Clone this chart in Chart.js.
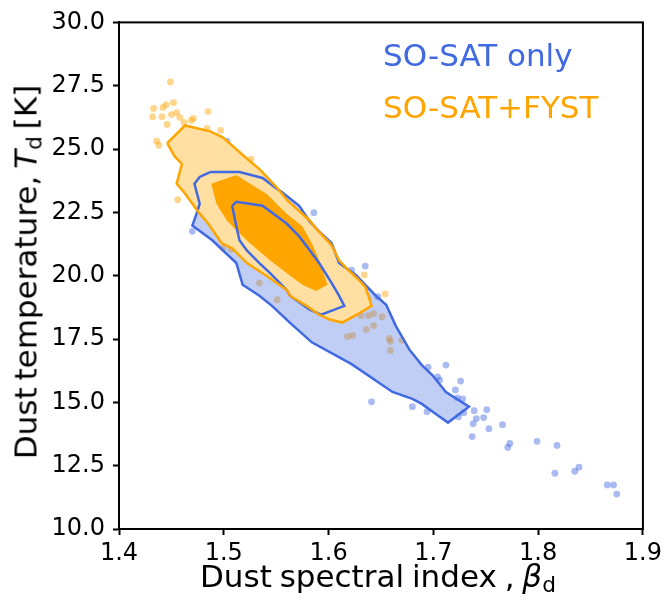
<!DOCTYPE html>
<html>
<head>
<meta charset="utf-8">
<script src="https://cdn.jsdelivr.net/npm/chart.js@4.4.1/dist/chart.umd.min.js"></script>
<style>
  html, body { margin: 0; padding: 0; background: #fff; }
  #wrap { position: relative; width: 666px; height: 606px; }
  #wrap canvas { position: absolute; left: 0; top: 0; }
  .txt { position: absolute; font-family: 'DejaVu Sans'; line-height: 1; white-space: nowrap; }
  .txt i { font-style: italic; }
  .txt sub { font-size: 0.7em; vertical-align: baseline; position: relative; top: 0.22em; }
  #ytitle { font-size: 31px; left: 26px; top: 272px; word-spacing: -3px; transform: translate(-50%, -50%) rotate(-90deg); color: #000; }
  #xtitle { font-size: 31px; left: 200px; top: 561px; word-spacing: -2px; color: #000; }
  #leg1 { font-size: 31px; left: 383px; top: 40px; color: #4169e1; }
  #leg2 { font-size: 31px; left: 383px; top: 92px; color: #ffa500; }
</style>
</head>
<body>
<div id="wrap">
  <canvas id="chart" width="666" height="606"></canvas>
  <div class="txt" id="ytitle">Dust temperature, <i>T</i><sub>d</sub> [K]</div>
  <div class="txt" id="xtitle">Dust spectral index , <i>β</i><sub>d</sub></div>
  <div class="txt" id="leg1">SO-SAT only</div>
  <div class="txt" id="leg2">SO-SAT+FYST</div>
</div>
<script>
// contour outlines (beta_d, T_d)
const blueOuterBeta = [1.487, 1.515, 1.537, 1.548, 1.555, 1.572, 1.582, 1.591, 1.603, 1.610, 1.626, 1.636, 1.645, 1.655, 1.664, 1.677, 1.689, 1.699, 1.712, 1.734, 1.714, 1.702, 1.689, 1.680, 1.661, 1.622, 1.584, 1.563, 1.546, 1.534, 1.518, 1.512, 1.489, 1.470, 1.474, 1.477, 1.472, 1.477];
const blueOuterTemp = [24.09, 24.09, 23.86, 23.51, 23.31, 22.76, 22.14, 21.75, 21.28, 20.50, 20.03, 19.60, 19.21, 18.85, 18.03, 17.09, 16.47, 16.08, 15.41, 14.83, 14.20, 14.55, 14.94, 15.14, 15.41, 16.51, 17.37, 18.15, 18.81, 19.21, 19.64, 20.50, 21.40, 21.98, 22.45, 22.84, 23.63, 23.90];

const blueInnerBeta = [1.508, 1.512, 1.537, 1.560, 1.572, 1.582, 1.591, 1.603, 1.610, 1.615, 1.593, 1.582, 1.563, 1.560, 1.544, 1.534, 1.522, 1.515, 1.512];
const blueInnerTemp = [22.76, 22.92, 22.76, 22.06, 21.55, 21.00, 20.50, 19.71, 19.21, 18.81, 18.46, 18.66, 19.21, 19.44, 20.11, 20.50, 21.00, 21.40, 21.94];

const orangeOuterBeta = [1.446, 1.463, 1.487, 1.499, 1.525, 1.534, 1.550, 1.561, 1.582, 1.588, 1.603, 1.610, 1.617, 1.629, 1.635, 1.638, 1.641, 1.627, 1.613, 1.601, 1.591, 1.579, 1.563, 1.560, 1.541, 1.522, 1.508, 1.498, 1.485, 1.477, 1.470, 1.461, 1.455, 1.460, 1.453];
const orangeOuterTemp = [25.23, 25.93, 25.70, 25.46, 24.52, 24.21, 23.51, 22.96, 22.18, 21.87, 21.20, 20.61, 20.30, 19.83, 19.56, 19.21, 18.81, 18.46, 18.15, 18.27, 18.46, 18.81, 19.21, 19.44, 19.99, 20.50, 21.08, 21.28, 22.06, 22.45, 22.84, 23.35, 23.63, 24.41, 24.72];

const orangeInnerBeta = [1.488, 1.512, 1.525, 1.541, 1.560, 1.575, 1.584, 1.591, 1.599, 1.588, 1.575, 1.560, 1.544, 1.525, 1.512, 1.503, 1.493];
const orangeInnerTemp = [23.63, 23.98, 23.63, 23.23, 22.45, 21.94, 21.28, 20.61, 19.64, 19.40, 19.64, 20.11, 20.61, 21.28, 21.79, 22.18, 22.84];

// samples outside the contours
const bluePtsBeta = [1.470, 1.503, 1.586, 1.622, 1.635, 1.647, 1.641, 1.680, 1.694, 1.712, 1.726, 1.721, 1.728, 1.723, 1.739, 1.751, 1.741, 1.748, 1.738, 1.753, 1.766, 1.737, 1.773, 1.771, 1.799, 1.818, 1.816, 1.835, 1.839, 1.866, 1.872, 1.875, 1.695, 1.704, 1.706, 1.724, 1.729];
const bluePtsTemp = [21.75, 25.31, 22.49, 20.22, 20.38, 19.17, 15.02, 14.83, 14.63, 16.47, 15.84, 15.49, 15.14, 15.18, 14.67, 14.71, 14.36, 14.40, 14.16, 13.96, 14.12, 13.65, 13.38, 13.22, 13.46, 13.30, 12.20, 12.28, 12.44, 11.74, 11.74, 11.38, 16.39, 16.00, 15.88, 14.43, 14.59];

const orangePtsBeta = [1.449, 1.433, 1.432, 1.441, 1.442, 1.445, 1.452, 1.450, 1.455, 1.458, 1.446, 1.462, 1.469, 1.471, 1.485, 1.497, 1.484, 1.436, 1.438, 1.456, 1.526, 1.634, 1.654, 1.638, 1.631, 1.638, 1.643, 1.651, 1.643, 1.636, 1.618, 1.623, 1.658, 1.659, 1.659, 1.670, 1.499, 1.507, 1.534, 1.551];
const orangePtsTemp = [27.65, 26.60, 26.28, 26.28, 26.64, 26.75, 26.83, 26.36, 26.44, 26.25, 25.97, 26.05, 26.13, 26.21, 26.48, 25.74, 25.82, 25.31, 25.15, 23.00, 24.60, 20.03, 19.28, 19.05, 18.42, 18.42, 18.50, 18.38, 18.03, 17.88, 17.60, 17.64, 17.52, 17.41, 17.05, 17.45, 21.08, 21.04, 19.71, 19.05];

const xTicks = [1.4, 1.5, 1.6, 1.7, 1.8, 1.9];
const yTicks = [10, 12.5, 15, 17.5, 20, 22.5, 25, 27.5, 30];

const BLUE = '#4169e1';
const ORANGE = '#ffa500';

function pts(xs, ys) {
  return xs.map((x, i) => ({ x, y: ys[i] }));
}
function ring(xs, ys) {
  const p = pts(xs, ys);
  p.push(p[0]);
  return p;
}

// fills a closed contour from the element positions the line controller computed
const polyFill = {
  id: 'polyFill',
  beforeDatasetDraw(chart, args) {
    const ds = chart.data.datasets[args.index];
    if (!ds.polyColor) return;
    const { ctx, chartArea: a } = chart;
    const els = args.meta.data;
    ctx.save();
    ctx.beginPath();
    ctx.rect(a.left, a.top, a.right - a.left, a.bottom - a.top);
    ctx.clip();
    ctx.beginPath();
    els.forEach((p, i) => (i ? ctx.lineTo(p.x, p.y) : ctx.moveTo(p.x, p.y)));
    ctx.closePath();
    ctx.fillStyle = ds.polyColor;
    ctx.fill();
    ctx.restore();
  }
};

const frame = {
  id: 'frame',
  afterDatasetsDraw(chart) {
    const { ctx, chartArea: a } = chart;
    ctx.save();
    ctx.strokeStyle = '#000';
    ctx.lineWidth = 2;
    ctx.strokeRect(a.left, a.top, a.right - a.left, a.bottom - a.top);
    ctx.restore();
  }
};

const contour = (data, extra) => Object.assign({
  type: 'line',
  data,
  pointRadius: 0,
  pointHoverRadius: 0,
  tension: 0,
  fill: false,
  borderWidth: 2.5,
  borderColor: 'transparent'
}, extra);

const datasets = [
  contour(ring(orangeOuterBeta, orangeOuterTemp), { borderColor: ORANGE, order: 1 }),
  contour(ring(blueInnerBeta, blueInnerTemp), { borderColor: BLUE, order: 2 }),
  contour(ring(blueOuterBeta, blueOuterTemp), { borderColor: BLUE, order: 3 }),
  contour(ring(orangeInnerBeta, orangeInnerTemp), { borderWidth: 0, polyColor: ORANGE, order: 4 }),
  contour(ring(orangeOuterBeta, orangeOuterTemp), { borderWidth: 0, polyColor: '#ffdfa2', order: 5 }),
  contour(ring(blueOuterBeta, blueOuterTemp), { borderWidth: 0, polyColor: 'rgba(65,105,225,0.33)', order: 6 }),
  {
    type: 'scatter',
    data: pts(orangePtsBeta, orangePtsTemp),
    pointRadius: 3.4,
    borderWidth: 0,
    backgroundColor: 'rgba(255,165,0,0.45)',
    order: 7
  },
  {
    type: 'scatter',
    data: pts(bluePtsBeta, bluePtsTemp),
    pointRadius: 3.4,
    borderWidth: 0,
    backgroundColor: 'rgba(65,105,225,0.45)',
    order: 8
  }
];

const tickFont = { family: 'DejaVu Sans', size: 24 };

new Chart(document.getElementById('chart'), {
  type: 'scatter',
  data: { datasets },
  options: {
    responsive: false,
    animation: false,
    events: [],
    layout: { padding: { left: 0, right: 21, top: 17, bottom: 0 } },
    plugins: { legend: { display: false }, tooltip: { enabled: false } },
    scales: {
      x: {
        type: 'linear',
        min: xTicks[0],
        max: xTicks[xTicks.length - 1],
        afterFit: s => { s.height = 77; },
        afterBuildTicks: s => { s.ticks = xTicks.map(v => ({ value: v })); },
        ticks: { color: '#000', font: tickFont, padding: 4, maxRotation: 0, autoSkip: false,
                 callback: v => Number(v).toFixed(1) },
        grid: { drawOnChartArea: false, drawTicks: true, tickLength: 6, tickWidth: 2, tickColor: '#000' },
        border: { display: true, color: '#000', width: 2 }
      },
      y: {
        type: 'linear',
        min: yTicks[0],
        max: yTicks[yTicks.length - 1],
        afterFit: s => { s.width = 119; },
        afterBuildTicks: s => { s.ticks = yTicks.map(v => ({ value: v })); },
        ticks: { color: '#000', font: tickFont, padding: 8, autoSkip: false,
                 callback: v => Number(v).toFixed(1) },
        grid: { drawOnChartArea: false, drawTicks: true, tickLength: 6, tickWidth: 2, tickColor: '#000' },
        border: { display: true, color: '#000', width: 2 }
      }
    }
  },
  plugins: [polyFill, frame]
});
</script>
</body>
</html>
